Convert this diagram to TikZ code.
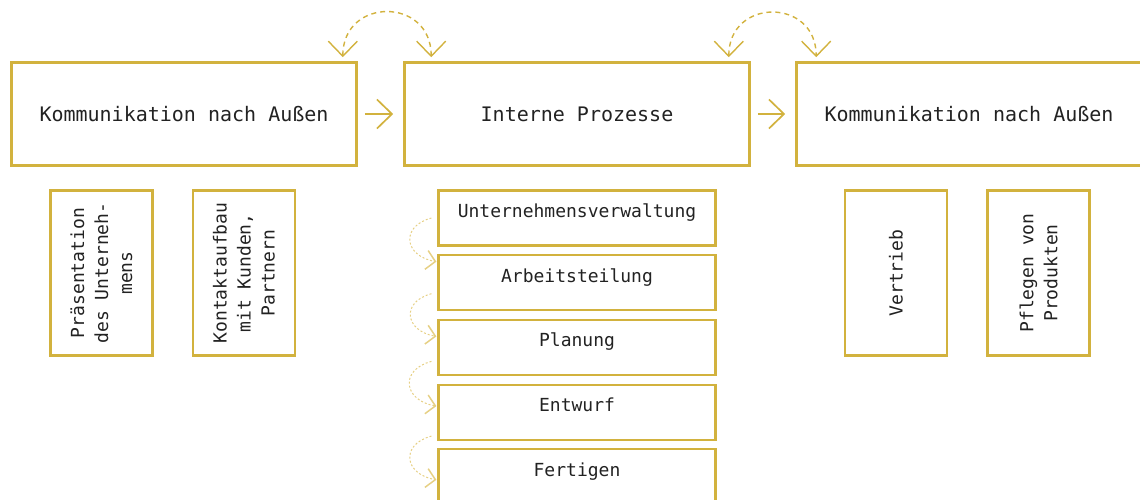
\documentclass[tikz,border=0pt]{standalone}
\usepackage{fontspec}
\setmonofont{DejaVu Sans Mono}
\usetikzlibrary{arrows.meta,positioning}
\definecolor{gold}{HTML}{D2B23E}
\definecolor{hellgold}{HTML}{E6D084}
\definecolor{schrift}{HTML}{222222}
\tikzset{
  hauptbox/.style={draw=gold, line width=2.6pt, minimum width=345pt, minimum height=103pt,
    inner sep=0pt, text=schrift, font=\ttfamily\fontsize{20}{24}\selectfont},
  kleinbox/.style={draw=gold, line width=2.4pt, rotate=90, minimum width=165pt, minimum height=102pt,
    inner sep=0pt, align=center, text=schrift, font=\ttfamily\fontsize{18}{24}\selectfont},
  schritt/.style={draw=gold, line width=2.2pt, minimum width=277pt, minimum height=55pt,
    inner sep=0pt, text height=10pt, text depth=11pt, text=schrift,
    font=\ttfamily\fontsize{18}{22}\selectfont},
  pfeil/.style={draw=gold, line width=1.7pt, -{Straight Barb[length=15pt,width=29pt]}},
  bogen/.style={draw=gold, line width=1.4pt, dash pattern=on 5pt off 4pt,
    {Straight Barb[length=15pt,width=29pt]}-{Straight Barb[length=15pt,width=29pt]}},
  kreis/.style={draw=hellgold, line width=1pt, dash pattern=on 2pt off 2pt,
    -{Straight Barb[length=9pt,width=19pt,line width=1.5pt]}}
}
\begin{document}
\begin{tikzpicture}[x=1pt,y=-1pt]
\useasboundingbox (0,0) rectangle (1140,500);

% Hauptkaesten
\node[hauptbox] (aussen1) at (184,114) {Kommunikation nach Außen};
\node[hauptbox] (intern) at (577,114) {Interne Prozesse};
\node[hauptbox] (aussen2) at (969,114) {Kommunikation nach Außen};

% Pfeile zwischen den Kaesten
\draw[pfeil] ([xshift=7pt]aussen1.east) -- ([xshift=-10pt]intern.west);
\draw[pfeil] ([xshift=7pt]intern.east) -- ([xshift=-10pt]aussen2.west);

% Boegen oben
\draw[bogen] ([xshift=-15pt,yshift=4pt]aussen1.north east) to[out=90,in=90,looseness=1.75] ([xshift=28pt,yshift=4pt]intern.north west);
\draw[bogen] ([xshift=-22pt,yshift=4pt]intern.north east) to[out=90,in=90,looseness=1.75] ([xshift=21pt,yshift=4pt]aussen2.north west);

% Unterpunkte links und rechts
\node[kleinbox] (praes) at (101.5,273) {Präsentation\\des Unterneh-\\mens};
\node[kleinbox] (kontakt) at (244,273) {Kontaktaufbau\\mit Kunden,\\Partnern};
\node[kleinbox] (vertrieb) at (896,273) {Vertrieb};
\node[kleinbox] (pflege) at (1038.5,273) {Pflegen von\\Produkten};

% interne Schritte
\node[schritt] (verw) at (577,218) {Unternehmensverwaltung};
\node[schritt, below=7.5pt of verw] (teil) {Arbeitsteilung};
\node[schritt, below=7.5pt of teil] (plan) {Planung};
\node[schritt, below=7.5pt of plan] (entw) {Entwurf};
\node[schritt, below=7.5pt of entw] (fert) {Fertigen};

% kleine Boegen
\foreach \a/\b/\s/\t in {verw/teil/0/21, teil/plan/-11/11, plan/entw/-14/6, entw/fert/-24/-3}
  \draw[kreis] ([xshift=-6pt,yshift=\s pt]\a.west) to[out=195,in=170,looseness=1.9] ([xshift=-1pt,yshift=\t pt]\b.west);
\end{tikzpicture}
\end{document}
